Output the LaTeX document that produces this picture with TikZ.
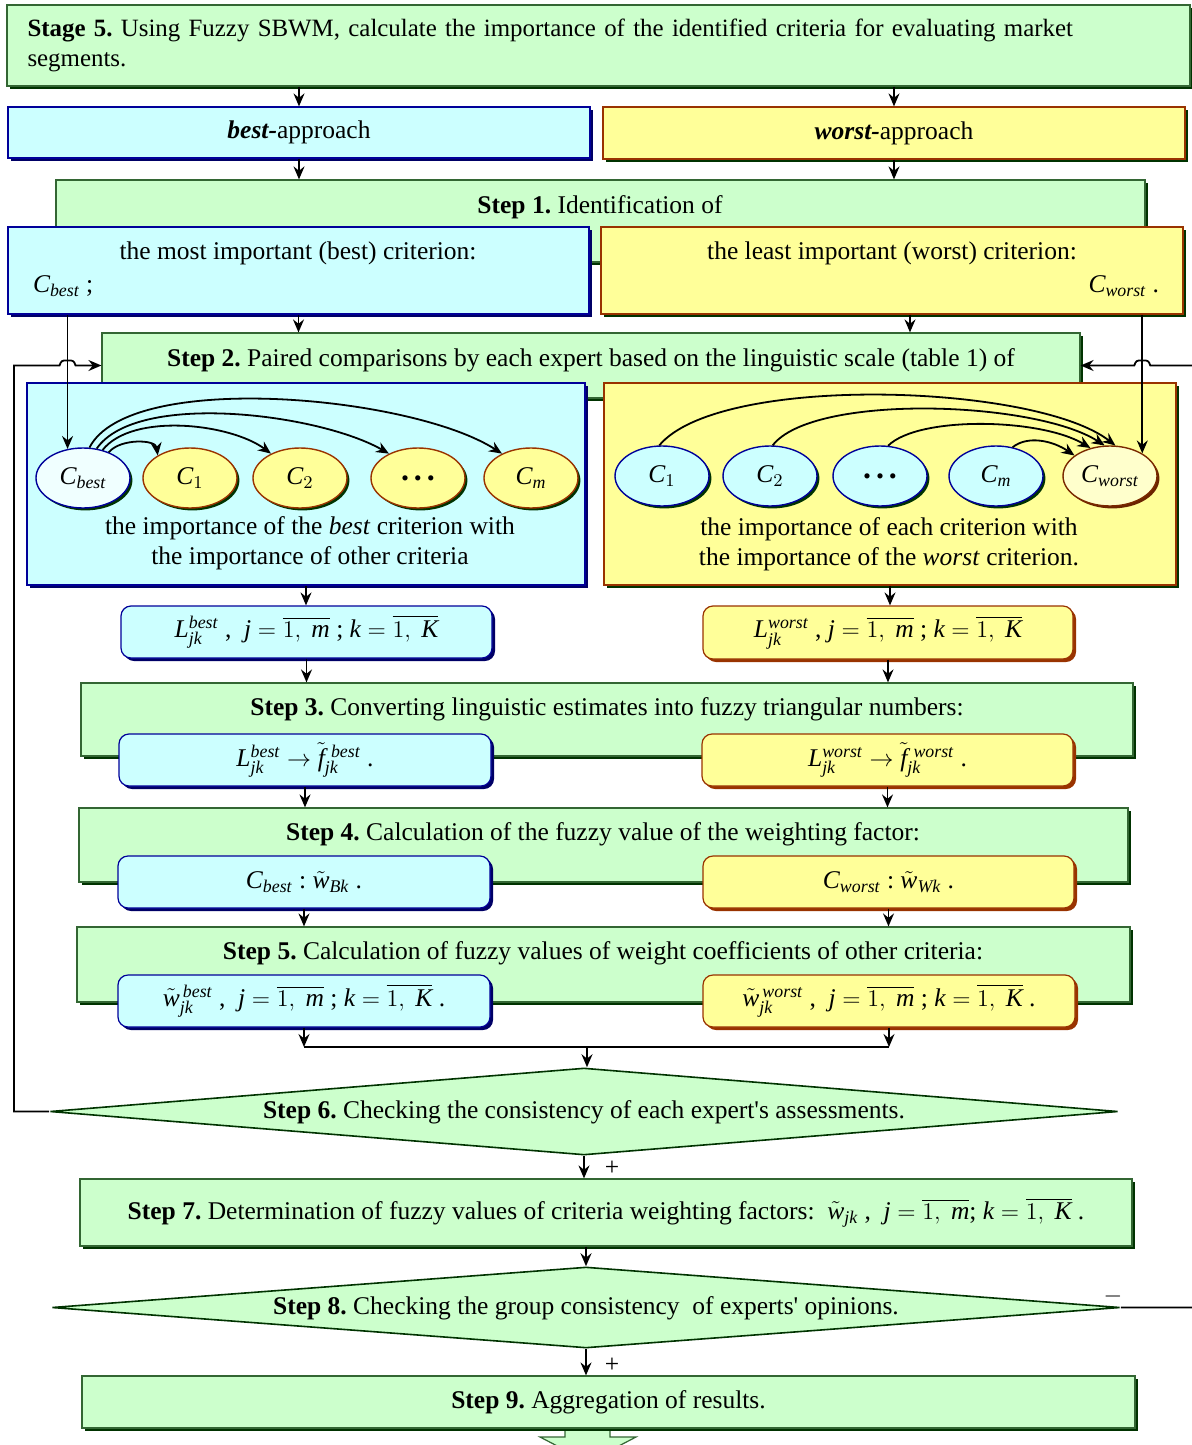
\documentclass[tikz,border=0pt]{standalone}
\usepackage{amsmath}
\usepackage{fontspec}
\setmainfont{Liberation Serif}
\usetikzlibrary{arrows.meta,shapes.geometric,shadows}
\frenchspacing

% Times-like letters and digits in math
\DeclareSymbolFont{timesit}{TU}{\rmdefault}{m}{it}
\DeclareSymbolFont{timesup}{TU}{\rmdefault}{m}{n}
\def\tletter#1{\DeclareMathSymbol{#1}{\mathalpha}{timesit}{`#1}}
\tletter b \tletter e \tletter s \tletter t \tletter w \tletter o \tletter r
\tletter j \tletter k \tletter m \tletter f \tletter B \tletter C \tletter K
\tletter L \tletter W
\DeclareMathSymbol{1}{\mathalpha}{timesup}{`1}
\DeclareMathSymbol{2}{\mathalpha}{timesup}{`2}
\newcommand\bigdots{{\fontsize{16}{16}\selectfont\textbf{.\hspace{2.5pt}.\hspace{2.5pt}.}}}

\definecolor{grnfill}{HTML}{CCFFCC}
\definecolor{grnline}{HTML}{336633}
\definecolor{grnshade}{HTML}{003300}
\definecolor{cyanfill}{HTML}{CCFFFF}
\definecolor{blueline}{HTML}{000099}
\definecolor{navyshade}{HTML}{000066}
\definecolor{yelfill}{HTML}{FFFF99}
\definecolor{brownline}{HTML}{993300}
\definecolor{paleblue}{HTML}{F0FFFF}
\definecolor{paleyel}{HTML}{FFFFCC}

\begin{document}
\begin{tikzpicture}[x=0.5pt,y=-0.5pt,
    font=\fontsize{12.75}{15}\selectfont,
    >={Stealth[length=6.5pt,width=5.5pt,inset=2.2pt]},
    arr/.style={->,line width=0.9pt},
    box/.style={rectangle,inner sep=0pt,line width=0.6pt},
    greenbox/.style={box,draw=grnline,fill=grnfill,
        drop shadow={shadow xshift=1.5pt,shadow yshift=-1.5pt,fill=grnshade,opacity=1}},
    cyanbox/.style={box,draw=blueline,fill=cyanfill,
        drop shadow={shadow xshift=1.5pt,shadow yshift=-1.5pt,fill=navyshade,opacity=1}},
    yelbox/.style={box,draw=brownline,fill=yelfill,
        drop shadow={shadow xshift=1.5pt,shadow yshift=-1.5pt,fill=grnshade,opacity=1}},
    cyanround/.style={cyanbox,rounded corners=5pt},
    yelround/.style={box,draw=brownline,fill=yelfill,rounded corners=5pt,
        drop shadow={shadow xshift=1.5pt,shadow yshift=-1.5pt,fill=brownline,opacity=1}},
    crit/.style={ellipse,minimum width=47pt,minimum height=30pt,inner sep=0pt,line width=0.7pt},
    critY/.style={crit,draw=brownline,fill=yelfill,
        drop shadow={shadow xshift=1.2pt,shadow yshift=-1.2pt,fill=grnshade,opacity=1}},
    critC/.style={crit,draw=blueline,fill=cyanfill,
        drop shadow={shadow xshift=1.2pt,shadow yshift=-1.2pt,fill=grnshade,opacity=1}},
    decision/.style={diamond,inner sep=0pt,draw=grnshade,fill=grnfill,line width=0.8pt}]

    \useasboundingbox (0,0) rectangle (1192,1445);

    % Stage 5 header
    \node[greenbox,minimum width=591.5pt,minimum height=40.5pt,text width=571pt,align=left,
        font=\fontsize{12.45}{15}\selectfont] (stage) at (598.5,45.5)
        {\textbf{Stage 5.} Using Fuzzy SBWM, calculate the importance of the identified criteria for evaluating market\\segments.};

    % the two approaches
    \node[cyanbox,minimum width=291pt,minimum height=25.5pt] (bestap) at (299,132.5) {\textbf{\textit{best-}}approach};
    \node[yelbox,minimum width=291pt,minimum height=26pt] (worstap) at (894,133) {\textbf{\textit{worst-}}approach};

    % Step 1
    \node[greenbox,minimum width=544.5pt,minimum height=41pt] (s1) at (600.5,221) {};
    \node (s1txt) at (600,207) {\textbf{Step 1.} Identification of};
    \node[cyanbox,minimum width=290.5pt,minimum height=43.5pt] (crbest) at (298.5,270.5) {};
    \node[yelbox,minimum width=291pt,minimum height=43.5pt] (crworst) at (892,270.5) {};
    \node (crbtxt) at (298,253) {the most important (best) criterion:};
    \node[anchor=west] (crbsym) at (26,286) {$C_{best}$ ;};
    \node (crwtxt) at (892,253) {the least important (worst) criterion:};
    \node[anchor=east] (crwsym) at (1166,286) {$C_{worst}$ .};

    % Step 2
    \node[greenbox,minimum width=489pt,minimum height=32.5pt] (s2) at (591,365.5) {};
    \node (s2txt) at (591,360) {\textbf{Step 2.} Paired comparisons by each expert based on the linguistic scale (table 1) of};
    \node[cyanbox,minimum width=279pt,minimum height=101pt] (cmpbest) at (306,484) {};
    \node[yelbox,minimum width=286pt,minimum height=101pt] (cmpworst) at (890,484) {};

    % criteria, best side
    \node[crit,draw=blueline,fill=paleblue,
        drop shadow={shadow xshift=1.2pt,shadow yshift=-1.2pt,fill=grnshade,opacity=1}] (eb0) at (83,478) {$C_{best}$};
    \node[critY] (eb1) at (190,478) {$C_1$};
    \node[critY] (eb2) at (300,478) {$C_2$};
    \node[critY] (eb3) at (418,478) {\bigdots};
    \node[critY] (eb4) at (531,478) {$C_m$};
    \node[align=center] (cmpbtxt) at (310,543) {the importance of the \textit{best} criterion with\\the importance of other criteria};

    % criteria, worst side
    \node[critC] (ew1) at (662,476) {$C_1$};
    \node[critC] (ew2) at (770,476) {$C_2$};
    \node[critC] (ew3) at (880,476) {\bigdots};
    \node[critC] (ew4) at (996,476) {$C_m$};
    \node[crit,draw=brownline!80!black,fill=paleyel,
        drop shadow={shadow xshift=1.2pt,shadow yshift=-1.2pt,fill=brownline!70!black,opacity=1}] (ew5) at (1110,476) {$C_{worst}$};
    \node[align=center] (cmpwtxt) at (889,544) {the importance of each criterion with\\the importance of the \textit{worst} criterion.};

    % pairwise arrows
    \draw[arr] (eb0.45) .. controls +(12,-14) and +(-2,-16) .. (eb1.145);
    \draw[arr] (eb0.55) .. controls +(30,-38) and +(-40,-30) .. (eb2.140);
    \draw[arr] (eb0.65) .. controls +(40,-58) and +(-70,-40) .. (eb3.140);
    \draw[arr] (eb0.78) .. controls +(40,-78) and +(-90,-58) .. (eb4.140);
    \draw[arr] (ew1.95) .. controls +(60,-72) and +(-80,-62) .. (ew5.80);
    \draw[arr] (ew2.85) .. controls +(40,-52) and +(-70,-45) .. (ew5.100);
    \draw[arr] (ew3.75) .. controls +(30,-30) and +(-50,-30) .. (ew5.125);
    \draw[arr] (ew4.60) .. controls +(15,-12) and +(-22,-15) .. (ew5.150);

    % Linguistic estimates
    \node[cyanround,minimum width=185.5pt,minimum height=26pt] (lbest) at (306.5,632)
        {$L_{jk}^{best}$ ,\ \ $j=\overline{1,\ m}$ ;\ $k=\overline{1,\ K}$};
    \node[yelround,minimum width=185pt,minimum height=26.5pt] (lworst) at (888,632.5)
        {$L_{jk}^{worst}$ , $j=\overline{1,\ m}$ ;\ $k=\overline{1,\ K}$};

    % Step 3
    \node[greenbox,minimum width=526pt,minimum height=36.5pt] (s3) at (607,719.5) {};
    \node (s3txt) at (607,709) {\textbf{Step 3.} Converting linguistic estimates into fuzzy triangular numbers:};
    \node[cyanround,minimum width=186pt,minimum height=26pt] (f3best) at (305,760)
        {$L_{jk}^{best}\rightarrow\tilde{f}_{jk}^{\,\,best}$ .};
    \node[yelround,minimum width=185.5pt,minimum height=26pt] (f3worst) at (887.5,760)
        {$L_{jk}^{worst}\rightarrow\tilde{f}_{jk}^{\,\,worst}$ .};

    % Step 4
    \node[greenbox,minimum width=524.5pt,minimum height=37pt] (s4) at (603.5,845) {};
    \node (s4txt) at (603,834) {\textbf{Step 4.} Calculation of the fuzzy value of the weighting factor:};
    \node[cyanround,minimum width=186pt,minimum height=26pt] (f4best) at (304,882)
        {$C_{best}$ : $\tilde{w}_{Bk}$ .};
    \node[yelround,minimum width=185.5pt,minimum height=26pt] (f4worst) at (888.5,882)
        {$C_{worst}$ : $\tilde{w}_{Wk}$ .};

    % Step 5
    \node[greenbox,minimum width=526.5pt,minimum height=37.5pt] (s5) at (603.5,964.5) {};
    \node (s5txt) at (603,953) {\textbf{Step 5.} Calculation of fuzzy values of weight coefficients of other criteria:};
    \node[cyanround,minimum width=186pt,minimum height=26pt] (f5best) at (304,1001)
        {$\tilde{w}_{jk}^{\,best}$ ,\ \ $j=\overline{1,\ m}$ ;\ $k=\overline{1,\ K}$ .};
    \node[yelround,minimum width=186pt,minimum height=26pt] (f5worst) at (889,1001)
        {$\tilde{w}_{jk}^{\,worst}$ ,\ \ $j=\overline{1,\ m}$ ;\ $k=\overline{1,\ K}$ .};

    % Step 6
    \node[decision,minimum width=534pt,minimum height=43.5pt] (d6) at (584,1111.5) {};
    \node (d6txt) at (584,1112) {\textbf{Step 6.} Checking the consistency of each expert\textquotesingle s assessments.};
    \node (plus6) at (612,1168) {+};

    % Step 7
    \node[greenbox,minimum width=526pt,minimum height=33.5pt] (s7) at (606,1212.5)
        {\textbf{Step 7.} Determination of fuzzy values of criteria weighting factors:\ \ $\tilde{w}_{jk}$ ,\ \ $j=\overline{1,\ m}$;\ $k=\overline{1,\ K}$ .};

    % Step 8
    \node[decision,minimum width=534pt,minimum height=40.5pt] (d8) at (586,1307.5) {};
    \node (d8txt) at (586,1308) {\textbf{Step 8.} Checking the group consistency\ \ of experts\textquotesingle\ opinions.};
    \node (plus8) at (612,1365) {+};
    \node (minus8) at (1113,1296) {$-$};

    % Step 9 and the exit arrow
    \draw[fill=grnfill,draw=grnline,line width=0.6pt] (565,1428) -- (565,1437) -- (540,1437) -- (588,1462)
        -- (636,1437) -- (610,1437) -- (610,1428);
    \node[greenbox,minimum width=526.5pt,minimum height=26pt] (s9) at (608.5,1402) {\textbf{Step 9.} Aggregation of results.};

    % connectors down the chart
    \draw[arr] (stage.south -| bestap.north) -- (bestap.north);
    \draw[arr] (stage.south -| worstap.north) -- (worstap.north);
    \draw[arr] (bestap.south) -- (bestap.south |- s1.north);
    \draw[arr] (worstap.south) -- (worstap.south |- s1.north);
    \draw[arr] (crbest.south) -- (crbest.south |- s2.north);
    \coordinate (cw) at ([xshift=9pt]crworst.south);
    \draw[arr] (cw) -- (cw |- s2.north);
    \draw[arr] (eb0.118 |- crbest.south) -- (eb0.118);
    \draw[arr] (ew5.35 |- crworst.south) -- (ew5.35);
    \draw[arr] (cmpbest.south) -- (cmpbest.south |- lbest.north);
    \draw[arr] (cmpworst.south) -- (cmpworst.south |- lworst.north);
    \draw[arr] (lbest.south) -- (lbest.south |- s3.north);
    \draw[arr] (lworst.south) -- (lworst.south |- s3.north);
    \draw[arr] (f3best.south) -- (f3best.south |- s4.north);
    \draw[arr] (f3worst.south) -- (f3worst.south |- s4.north);
    \draw[arr] (f4best.south) -- (f4best.south |- s5.north);
    \draw[arr] (f4worst.south) -- (f4worst.south |- s5.north);

    % merge into Step 6
    \coordinate (join) at (587,1047);
    \draw[arr] (f5best.south) -- (f5best.south |- join);
    \draw[arr] (f5worst.south) -- (f5worst.south |- join);
    \draw[line width=0.9pt] (f5best.south |- join) -- (f5worst.south |- join);
    \draw[arr] (join) -- (join |- d6.north);
    \draw[arr] (d6.south) -- (d6.south |- s7.north);
    \draw[arr] (d8.north |- s7.south) -- (d8.north);
    \draw[arr] (d8.south) -- (d8.south |- s9.north);

    % feedback loops back to Step 2 (line jumps over the verticals)
    \coordinate (jl) at (eb0.118 |- s2.west);
    \coordinate (jr) at (ew5.35 |- s2.east);
    \draw[arr] (d6.west) -- (14,1111.5) |- ([xshift=-4pt]jl)
        [rounded corners=1.2pt] -- ([xshift=-3pt,yshift=2.5pt]jl) -- ([xshift=3pt,yshift=2.5pt]jl)
        [sharp corners] -- ([xshift=4pt]jl) -- (s2.west);
    \draw[arr] (d8.east) -- ++(80,0) |- ([xshift=4pt]jr)
        [rounded corners=1.2pt] -- ([xshift=3pt,yshift=2.5pt]jr) -- ([xshift=-3pt,yshift=2.5pt]jr)
        [sharp corners] -- ([xshift=-4pt]jr) -- (s2.east);
\end{tikzpicture}
\end{document}
